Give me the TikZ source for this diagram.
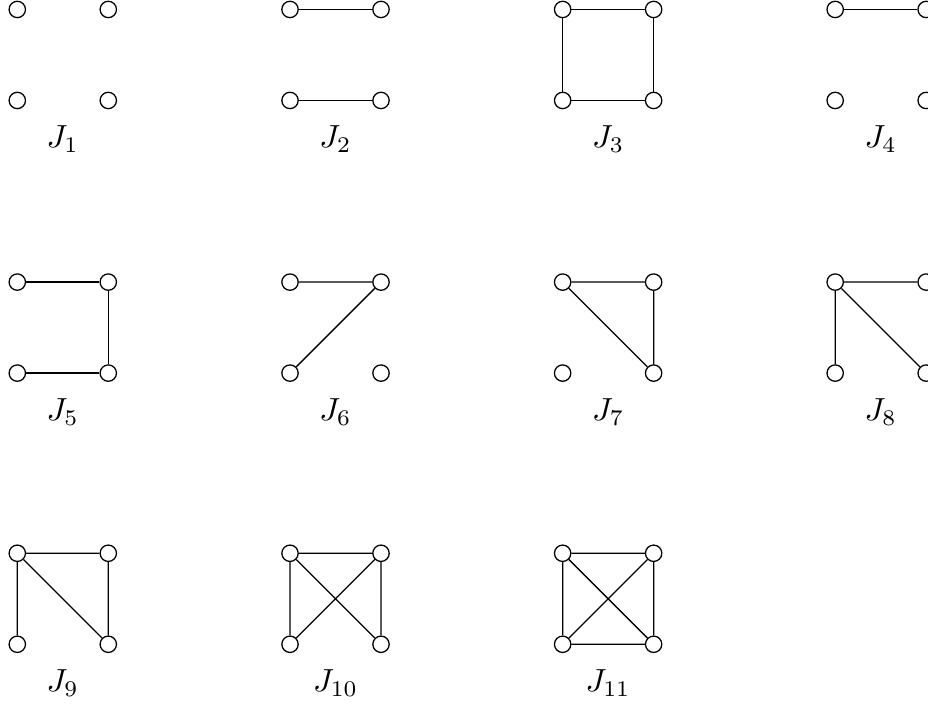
\documentclass[tikz,border=0pt]{standalone}
\begin{document}
\begin{tikzpicture}[x=1cm,y=1cm,
  vtx/.style={circle,draw,fill=white,inner sep=0pt,minimum size=0.18cm},
  lbl/.style={anchor=base,inner sep=0pt},
  edge/.style={draw,line width=0.4pt}]
\useasboundingbox (0,0) rectangle (10.198,-7.813);
\newcommand{\vset}[3]{%
  \node[vtx] (g#1a) at (#2,#3) {};
  \node[vtx] (g#1b) at (#2+1,#3) {};
  \node[vtx] (g#1c) at (#2,#3-1) {};
  \node[vtx] (g#1d) at (#2+1,#3-1) {};
  \node[lbl] (g#1l) at (#2+0.5,#3-1.52) {$J_{#1}$};
}
% row 1
\vset{1}{0.19}{-0.104}
\vset{2}{3.187}{-0.104}
\vset{3}{6.183}{-0.104}
\vset{4}{9.178}{-0.104}
% row 2
\vset{5}{0.19}{-3.1}
\vset{6}{3.187}{-3.1}
\vset{7}{6.183}{-3.1}
\vset{8}{9.178}{-3.1}
% row 3
\vset{9}{0.19}{-6.08}
\vset{10}{3.187}{-6.08}
\vset{11}{6.183}{-6.08}
% edges
\path[edge] (g2a) -- (g2b) (g2c) -- (g2d);
\path[edge] (g3a) -- (g3b) (g3b) -- (g3d) (g3d) -- (g3c) (g3c) -- (g3a);
\path[edge] (g4a) -- (g4b);
\path[edge] (g5a) -- (g5b) (g5b) -- (g5d) (g5c) -- (g5d);
\path[edge] (g6a) -- (g6b) (g6b) -- (g6c);
\path[edge] (g7a) -- (g7b) (g7b) -- (g7d) (g7a) -- (g7d);
\path[edge] (g8a) -- (g8b) (g8a) -- (g8c) (g8a) -- (g8d);
\path[edge] (g9a) -- (g9b) (g9a) -- (g9c) (g9a) -- (g9d) (g9b) -- (g9d);
\path[edge] (g10a) -- (g10b) (g10a) -- (g10c) (g10b) -- (g10d) (g10a) -- (g10d) (g10b) -- (g10c);
\path[edge] (g11a) -- (g11b) (g11a) -- (g11c) (g11b) -- (g11d) (g11c) -- (g11d) (g11a) -- (g11d) (g11b) -- (g11c);
\end{tikzpicture}
\end{document}
